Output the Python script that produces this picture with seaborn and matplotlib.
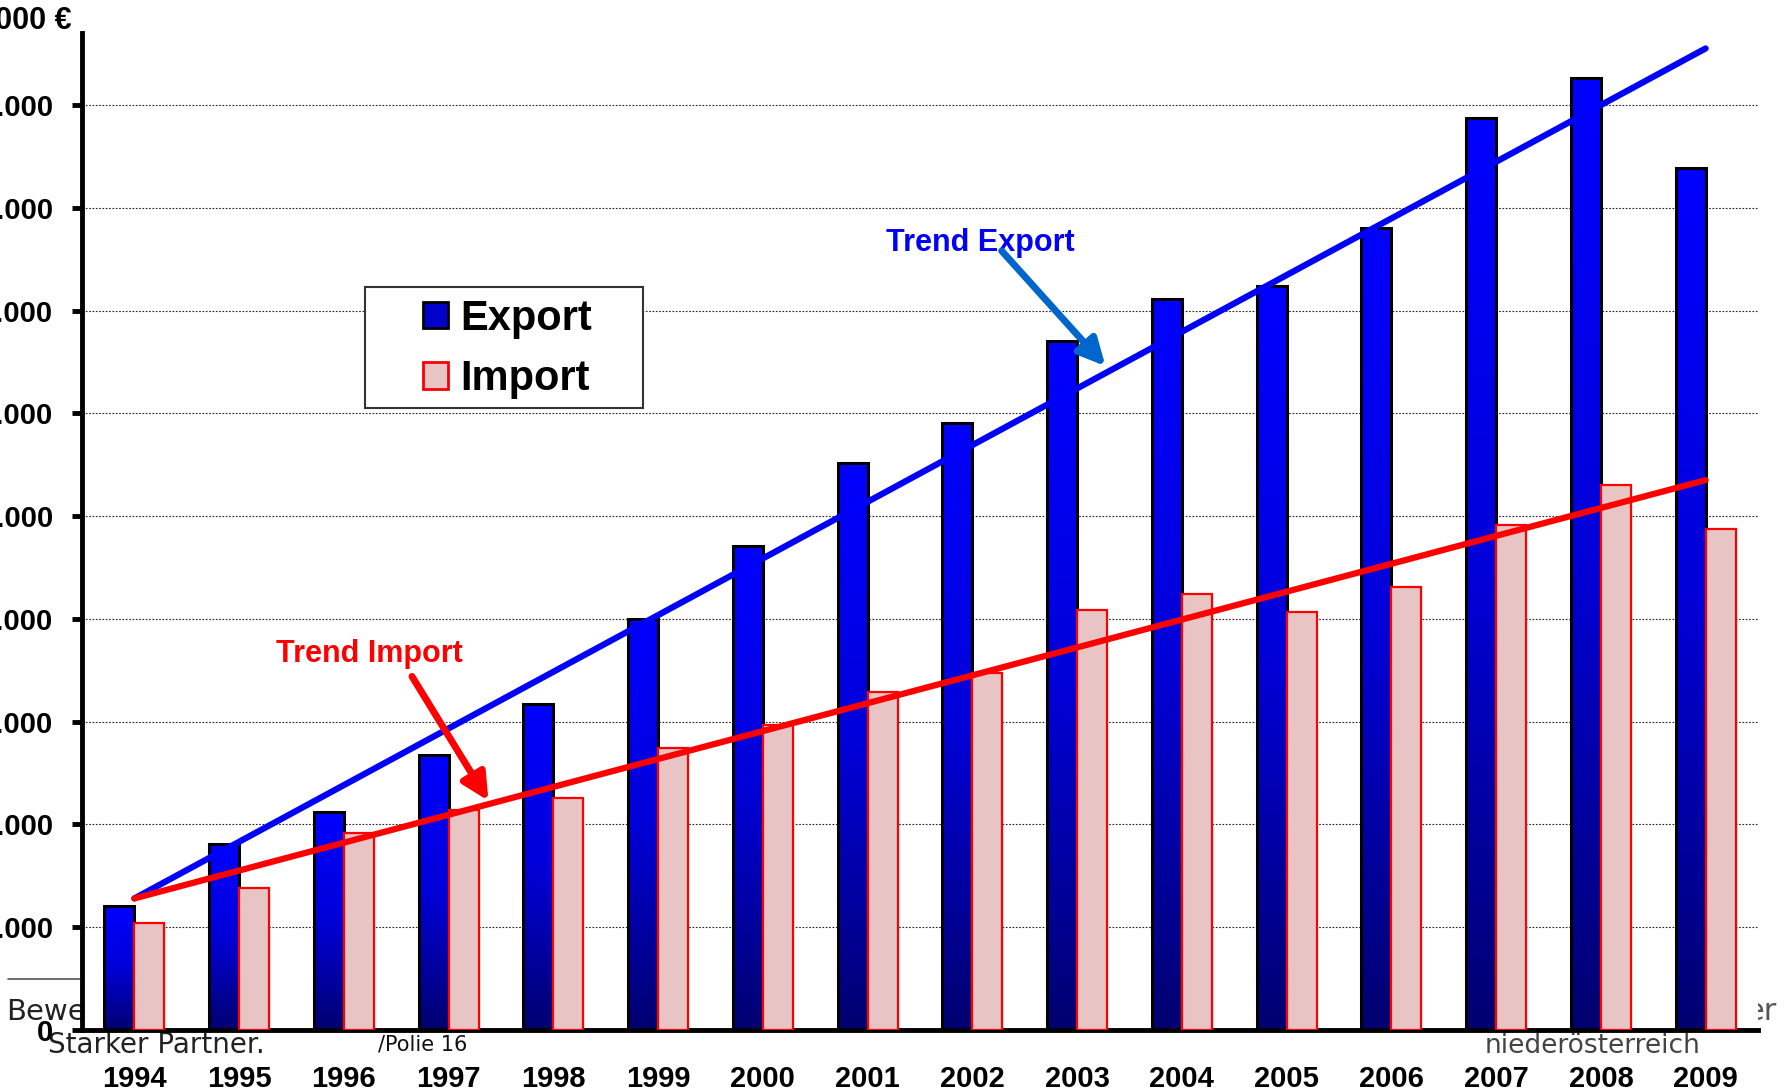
import numpy as np
import pandas as pd
import matplotlib
matplotlib.use("Agg")
import matplotlib.pyplot as plt
import seaborn as sns
from matplotlib.colors import LinearSegmentedColormap
from matplotlib.patches import Patch, Rectangle
from matplotlib.lines import Line2D

# data (values in 1.000 €)
years = ["1994", "1995", "1996", "1997", "1998", "1999", "2000", "2001",
         "2002", "2003", "2004", "2005", "2006", "2007", "2008", "2009"]
export = [1210, 1810, 2120, 2680, 3170, 4000, 4710, 5520,
          5910, 6700, 7110, 7240, 7800, 8870, 9260, 8390]
imports = [1040, 1380, 1920, 2140, 2260, 2740, 2970, 3290,
           3470, 4090, 4240, 4070, 4310, 4910, 5300, 4870]
trend_years = ["1994", "2009"]
trend_export = [1280, 9550]
trend_import = [1280, 5350]
y_ticks = [0, 1000, 2000, 3000, 4000, 5000, 6000, 7000, 8000, 9000]
y_labels = ["0", "1.000", "2.000", "3.000", "4.000", "5.000", "6.000", "7.000", "8.000", "9.000"]

df = pd.DataFrame({
    "Jahr": years + years,
    "Wert": export + imports,
    "Reihe": ["Export"] * len(years) + ["Import"] * len(years),
})

sns.set_style("white")
plt.rcParams["font.family"] = ["Liberation Sans", "DejaVu Sans"]
plt.rcParams["text.color"] = "black"
plt.rcParams["xtick.color"] = "black"
plt.rcParams["ytick.color"] = "black"

W, H = 1785, 1091
fig = plt.figure(figsize=(W / 100, H / 100), dpi=100)
ax = fig.add_axes([82 / W, 1 - 1030 / H, (1758 - 82) / W, (1030 - 33) / H])

sns.barplot(data=df, x="Jahr", y="Wert", hue="Reihe",
            palette={"Export": "#0000ff", "Import": "#e8c4c4"},
            width=0.573, gap=0, saturation=1, errorbar=None, legend=False, ax=ax)

# export bars: vertical gradient blue -> navy, black edge
cmap = LinearSegmentedColormap.from_list("exp", ["#000070", "#0000d8", "#0000ff"])
grad = np.linspace(1, 0, 256).reshape(-1, 1)
for bar in ax.containers[0]:
    x, w, h = bar.get_x(), bar.get_width(), bar.get_height()
    im = ax.imshow(grad, cmap=cmap, vmin=0, vmax=1, extent=[x, x + w, 0, h],
                   aspect="auto", zorder=2.5, interpolation="bilinear")
    im.set_clip_path(bar)
    bar.set_facecolor("none")
    bar.set_edgecolor("black")
    bar.set_linewidth(2.2)
    bar.set_zorder(3)

for bar in ax.containers[1]:
    bar.set_edgecolor("#ff0000")
    bar.set_linewidth(1.6)
    bar.set_zorder(3)

# trend lines
trend_pos = [years.index(y) for y in trend_years]
sns.lineplot(x=trend_pos, y=trend_export, color="#0000ff", lw=4.5, ax=ax,
             solid_capstyle="round", zorder=4)
sns.lineplot(x=trend_pos, y=trend_import, color="#ff0000", lw=4.5, ax=ax,
             solid_capstyle="round", zorder=4)

ax.text(7.18, 7660, "Trend Export", color="#0000ff", fontsize=22,
        fontweight="bold", ha="left", va="center", zorder=5)
ax.annotate("", xy=(9.27, 6460), xytext=(8.28, 7580), zorder=6,
            arrowprops=dict(arrowstyle="-|>,head_width=0.4,head_length=0.8",
                            color="#0066cc", lw=5, mutation_scale=20,
                            shrinkA=0, shrinkB=0))
ax.text(1.35, 3660, "Trend Import", color="#ff0000", fontsize=22,
        fontweight="bold", ha="left", va="center", zorder=5)
ax.annotate("", xy=(3.38, 2230), xytext=(2.65, 3440), zorder=6,
            arrowprops=dict(arrowstyle="-|>,head_width=0.4,head_length=0.8",
                            color="#ff0000", lw=5, mutation_scale=20,
                            shrinkA=0, shrinkB=0))

ax.set_xlim(-0.5, 15.5)
ax.set_ylim(0, 9700)
ax.set_xlabel("")
ax.set_ylabel("")

ax.yaxis.grid(True, color="#222222", lw=0.8, linestyle=(0, (1.5, 1.5)))
ax.xaxis.grid(False)
ax.set_axisbelow(True)

for side in ["top", "right"]:
    ax.spines[side].set_visible(False)
for side in ["left", "bottom"]:
    ax.spines[side].set_linewidth(3.5)
    ax.spines[side].set_color("black")

ax.set_xticks(range(len(years)))
ax.set_xticklabels(years, fontsize=21, fontweight="bold")
ax.set_xticks(np.arange(-0.5, len(years), 1), minor=True)
ax.tick_params(axis="x", which="major", length=0, pad=25)
ax.tick_params(axis="x", which="minor", length=7, width=3.5, color="black", direction="out")

ax.set_yticks(y_ticks)
ax.set_yticklabels(y_labels, fontsize=21, fontweight="bold")
ax.tick_params(axis="y", length=7, width=3.5, color="black", direction="out", pad=14, left=True)

# legend box
box = Rectangle((365 / W, 1 - 408 / H), 278 / W, 121 / H, transform=fig.transFigure,
                facecolor="white", edgecolor="#333333", lw=1.5, zorder=7)
ax.add_patch(box)
box.set_clip_on(False)
handles = [Patch(facecolor="#0000cc", edgecolor="black", lw=2),
           Patch(facecolor="#e8c4c4", edgecolor="#ff0000", lw=2)]
leg = ax.legend(handles, ["Export", "Import"], loc="center left",
                bbox_to_anchor=(423 / W, 1 - 349 / H), bbox_transform=fig.transFigure,
                frameon=False, borderpad=0, borderaxespad=0,
                prop=dict(weight="bold", size=30), handlelength=0.6, handleheight=0.6,
                handletextpad=0.3, labelspacing=0.5)
leg.set_zorder(8)

# unit label and slide remnants behind the chart
fig.text(72 / W, 1 - 21 / H, "in 1.000 €", ha="right", va="center",
         fontsize=22, fontweight="bold")
narrow = ["Liberation Sans Narrow", "DejaVu Sans"]
fig.text(6 / W, 1 - 1020 / H, "Bewe", fontsize=21, color="#222222",
         family=narrow, va="baseline", zorder=-1)
fig.text(48 / W, 1 - 1053 / H, "Starker Partner.", fontsize=20, color="#222222",
         family=narrow, va="baseline", zorder=-1)
fig.text(378 / W, 1 - 1050 / H, "/Polie 16", fontsize=15, color="#111111",
         family=narrow, va="baseline", zorder=-1)
fig.text(1485 / W, 1 - 1053 / H, "niederösterreich", fontsize=19, color="#444444",
         family=narrow, va="baseline", zorder=-1)
fig.text(1745 / W, 1 - 1020 / H, "er", fontsize=22, color="#555555",
         family=narrow, va="baseline", zorder=-1)
fig.add_artist(Line2D([8 / W, 80 / W], [1 - 979 / H, 1 - 979 / H], color="#555555",
                      lw=1.2, zorder=-1))

fig.savefig("out.png", dpi=100, facecolor="white")
